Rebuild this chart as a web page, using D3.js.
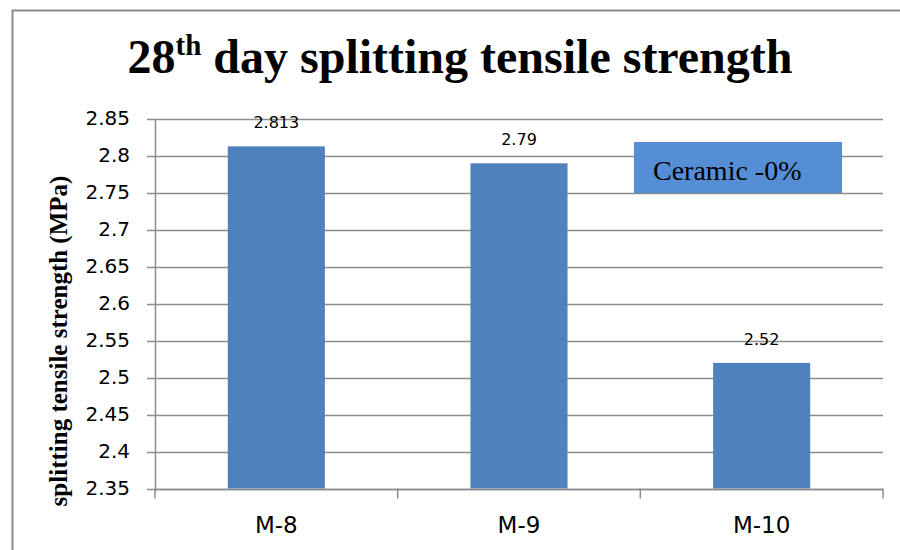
<!DOCTYPE html>
<html>
<head>
<meta charset="utf-8">
<script src="https://cdn.jsdelivr.net/npm/d3@7"></script>
<style>
  body { margin: 0; background: #fff; }
  svg { display: block; }
</style>
</head>
<body>
<div id="chart"></div>
<script>
// data
var categories = ['M-8', 'M-9', 'M-10'];
var strengths = [2.813, 2.79, 2.52];
var yTicks = [2.35, 2.4, 2.45, 2.5, 2.55, 2.6, 2.65, 2.7, 2.75, 2.8, 2.85];
var legendLabel = 'Ceramic -0%';

var width = 900, height = 550;
var plot = { left: 155, right: 883, top: 119, bottom: 488.5 };
var sans = '"DejaVu Sans", Verdana, sans-serif';
var serif = '"Liberation Serif", "Times New Roman", serif';

var svg = d3.select('#chart')
  .append('svg')
  .attr('width', width)
  .attr('height', height);

// outer frame (no right edge visible, bottom runs off the picture)
svg.append('path')
  .attr('d', 'M12.5,' + height + 'V10.5H' + width)
  .attr('fill', 'none')
  .attr('stroke', '#8c8c8c')
  .attr('stroke-width', 2);

var x = d3.scaleBand()
  .domain(categories)
  .range([plot.left, plot.right])
  .paddingInner(0.6)
  .paddingOuter(0.3);

var xTicksScale = d3.scaleBand()
  .domain(categories)
  .range([plot.left, plot.right]);

var y = d3.scaleLinear()
  .domain([2.35, 2.85])
  .range([plot.bottom, plot.top]);

// gridlines
svg.append('g')
  .selectAll('line')
  .data(yTicks)
  .enter()
  .append('line')
  .attr('x1', plot.left - 8)
  .attr('x2', plot.right)
  .attr('y1', function(d){ return Math.round(y(d)) + 0.5 })
  .attr('y2', function(d){ return Math.round(y(d)) + 0.5 })
  .attr('stroke', '#8c8c8c')
  .attr('stroke-width', 1.5);

// y axis labels
svg.append('g')
  .selectAll('text')
  .data(yTicks)
  .enter()
  .append('text')
  .attr('x', 130)
  .attr('y', function(d){ return y(d) - 1 })
  .attr('dy', '0.36em')
  .attr('text-anchor', 'end')
  .style('font-family', sans)
  .style('font-size', '20px')
  .style('fill', '#000')
  .text(function(d){ return +d.toFixed(2) });

// bars
svg.append('g')
  .selectAll('rect')
  .data(strengths)
  .enter()
  .append('rect')
  .attr('x', function(d, i){ return x(categories[i]) })
  .attr('y', function(d){ return y(d) })
  .attr('width', x.bandwidth())
  .attr('height', function(d){ return y(2.35) - y(d) })
  .attr('fill', '#4f81bd');

// value labels
svg.append('g')
  .selectAll('text')
  .data(strengths)
  .enter()
  .append('text')
  .attr('x', function(d, i){ return x(categories[i]) + x.bandwidth() / 2 })
  .attr('y', function(d){ return y(d) - 18 })
  .attr('text-anchor', 'middle')
  .style('font-family', sans)
  .style('font-size', '16px')
  .style('fill', '#000')
  .text(function(d){ return d });

// axis lines
svg.append('line')
  .attr('x1', plot.left + 0.5).attr('x2', plot.left + 0.5)
  .attr('y1', plot.top).attr('y2', plot.bottom + 3)
  .attr('stroke', '#8c8c8c').attr('stroke-width', 1.5);

svg.append('line')
  .attr('x1', plot.left).attr('x2', plot.right)
  .attr('y1', Math.round(plot.bottom) + 0.5).attr('y2', Math.round(plot.bottom) + 0.5)
  .attr('stroke', '#8c8c8c').attr('stroke-width', 1.5);

// category ticks at band edges
svg.append('g')
  .selectAll('line')
  .data(categories.concat(['end']))
  .enter()
  .append('line')
  .attr('x1', function(d, i){ return plot.left + i * xTicksScale.bandwidth() })
  .attr('x2', function(d, i){ return plot.left + i * xTicksScale.bandwidth() })
  .attr('y1', plot.bottom)
  .attr('y2', plot.bottom + 10)
  .attr('stroke', '#8c8c8c')
  .attr('stroke-width', 1.5);

// category labels
svg.append('g')
  .selectAll('text')
  .data(categories)
  .enter()
  .append('text')
  .attr('x', function(d){ return xTicksScale(d) + xTicksScale.bandwidth() / 2 })
  .attr('y', 533)
  .attr('text-anchor', 'middle')
  .style('font-family', sans)
  .style('font-size', '23px')
  .style('fill', '#000')
  .text(function(d){ return d });

// title
var title = svg.append('text')
  .attr('x', 460)
  .attr('y', 73)
  .attr('text-anchor', 'middle')
  .style('font-family', serif)
  .style('font-weight', 'bold')
  .style('font-size', '48px')
  .style('fill', '#000');
title.append('tspan').text('28');
title.append('tspan').attr('dy', -18).style('font-size', '29px').text('th');
title.append('tspan').attr('dy', 18).text(' day splitting tensile strength');

// y axis title
svg.append('text')
  .attr('transform', 'translate(67,341) rotate(-90)')
  .attr('text-anchor', 'middle')
  .style('font-family', serif)
  .style('font-weight', 'bold')
  .style('font-size', '25px')
  .style('fill', '#000')
  .text('splitting tensile strength (MPa)');

// legend box
var legend = svg.append('g').attr('transform', 'translate(634,142)');
legend.append('rect')
  .attr('width', 208)
  .attr('height', 51)
  .attr('fill', '#558ed5');
legend.append('text')
  .attr('x', 19)
  .attr('y', 38)
  .style('font-family', serif)
  .style('font-size', '28px')
  .style('fill', '#000')
  .text(legendLabel);
</script>
</body>
</html>
